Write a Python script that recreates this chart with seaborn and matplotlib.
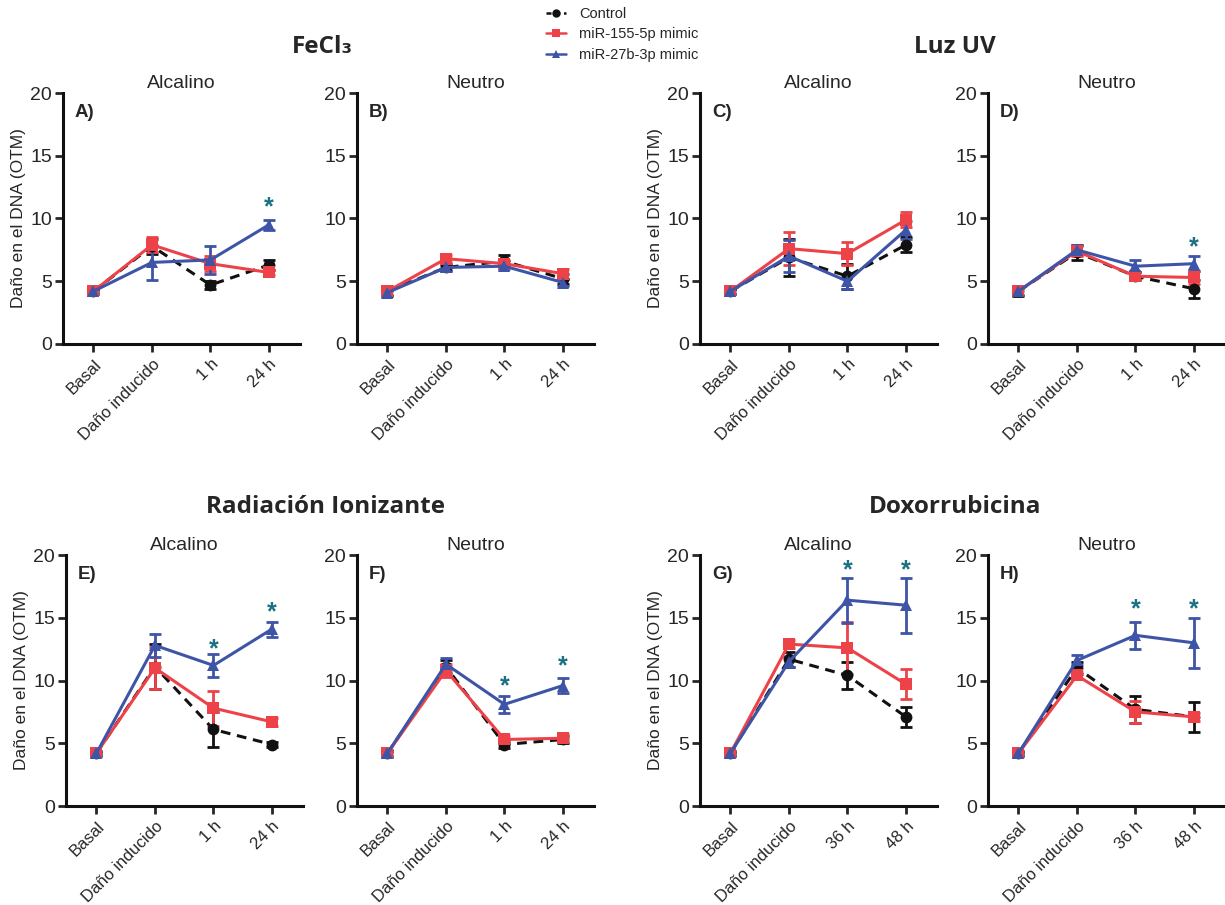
import numpy as np
import pandas as pd
import matplotlib
matplotlib.use("Agg")
import matplotlib.pyplot as plt
from matplotlib.lines import Line2D
import seaborn as sns

sns.set_theme(style="ticks")
plt.rcParams['font.family'] = ['Liberation Sans', 'DejaVu Sans']

# ---------------- data ----------------
cats_short = ["Basal", "Daño inducido", "1 h", "24 h"]
cats_long = ["Basal", "Daño inducido", "36 h", "48 h"]
series_names = ["Control", "miR-155-5p mimic", "miR-27b-3p mimic"]

# Panel A: FeCl3 Alcalino
A_ctrl = [4.2, 7.8, 4.7, 6.3];  A_ctrl_e = [0.2, 0.6, 0.3, 0.4]
A_155 = [4.2, 7.9, 6.4, 5.7];   A_155_e = [0.2, 0.6, 0.6, 0.2]
A_27b = [4.2, 6.5, 6.7, 9.5];   A_27b_e = [0.1, 1.4, 1.1, 0.4]
# Panel B: FeCl3 Neutro
B_ctrl = [4.2, 6.1, 6.6, 5.2];  B_ctrl_e = [0.4, 0.3, 0.5, 0.4]
B_155 = [4.2, 6.8, 6.4, 5.6];   B_155_e = [0.3, 0.3, 0.3, 0.4]
B_27b = [4.1, 6.1, 6.2, 4.9];   B_27b_e = [0.2, 0.2, 0.2, 0.3]
# Panel C: Luz UV Alcalino
C_ctrl = [4.2, 6.9, 5.4, 7.9];  C_ctrl_e = [0.2, 1.5, 1.0, 0.6]
C_155 = [4.2, 7.6, 7.2, 9.9];   C_155_e = [0.2, 1.3, 0.9, 0.6]
C_27b = [4.2, 7.0, 5.0, 9.1];   C_27b_e = [0.2, 1.3, 0.6, 0.7]
# Panel D: Luz UV Neutro
D_ctrl = [4.2, 7.3, 5.4, 4.4];  D_ctrl_e = [0.4, 0.6, 0.3, 0.7]
D_155 = [4.2, 7.4, 5.4, 5.3];   D_155_e = [0.3, 0.4, 0.3, 0.5]
D_27b = [4.2, 7.5, 6.2, 6.4];   D_27b_e = [0.3, 0.4, 0.5, 0.6]
# Panel E: Radiación Ionizante Alcalino
E_ctrl = [4.2, 11.1, 6.1, 4.9]; E_ctrl_e = [0.2, 1.8, 1.4, 0.2]
E_155 = [4.2, 11.0, 7.8, 6.7];  E_155_e = [0.2, 1.7, 1.4, 0.3]
E_27b = [4.2, 12.8, 11.2, 14.1]; E_27b_e = [0.1, 0.9, 0.9, 0.6]
# Panel F: Radiación Ionizante Neutro
F_ctrl = [4.2, 11.1, 4.9, 5.3]; F_ctrl_e = [0.3, 0.5, 0.3, 0.3]
F_155 = [4.2, 10.8, 5.3, 5.4];  F_155_e = [0.2, 0.5, 0.3, 0.3]
F_27b = [4.2, 11.3, 8.1, 9.6];  F_27b_e = [0.2, 0.5, 0.7, 0.6]
# Panel G: Doxorrubicina Alcalino
G_ctrl = [4.2, 11.7, 10.4, 7.1]; G_ctrl_e = [0.2, 0.6, 1.1, 0.8]
G_155 = [4.2, 12.9, 12.6, 9.7];  G_155_e = [0.2, 0.3, 2.1, 1.2]
G_27b = [4.2, 11.5, 16.4, 16.0]; G_27b_e = [0.1, 0.4, 1.8, 2.2]
# Panel H: Doxorrubicina Neutro
H_ctrl = [4.2, 11.0, 7.7, 7.1]; H_ctrl_e = [0.2, 0.5, 1.1, 1.2]
H_155 = [4.2, 10.4, 7.5, 7.1];  H_155_e = [0.2, 0.3, 0.9, 0.3]
H_27b = [4.2, 11.6, 13.6, 13.0]; H_27b_e = [0.1, 0.4, 1.1, 2.0]

# significance stars: (category index, y)
A_stars = [(3, 10.9)]
B_stars = []
C_stars = []
D_stars = [(3, 7.7)]
E_stars = [(2, 12.5), (3, 15.4)]
F_stars = [(2, 9.5), (3, 11.1)]
G_stars = [(2, 18.8), (3, 18.8)]
H_stars = [(2, 15.7), (3, 15.7)]

panels = [
    ("A)", "Alcalino", cats_short, (A_ctrl, A_ctrl_e), (A_155, A_155_e), (A_27b, A_27b_e), A_stars),
    ("B)", "Neutro", cats_short, (B_ctrl, B_ctrl_e), (B_155, B_155_e), (B_27b, B_27b_e), B_stars),
    ("C)", "Alcalino", cats_short, (C_ctrl, C_ctrl_e), (C_155, C_155_e), (C_27b, C_27b_e), C_stars),
    ("D)", "Neutro", cats_short, (D_ctrl, D_ctrl_e), (D_155, D_155_e), (D_27b, D_27b_e), D_stars),
    ("E)", "Alcalino", cats_short, (E_ctrl, E_ctrl_e), (E_155, E_155_e), (E_27b, E_27b_e), E_stars),
    ("F)", "Neutro", cats_short, (F_ctrl, F_ctrl_e), (F_155, F_155_e), (F_27b, F_27b_e), F_stars),
    ("G)", "Alcalino", cats_long, (G_ctrl, G_ctrl_e), (G_155, G_155_e), (G_27b, G_27b_e), G_stars),
    ("H)", "Neutro", cats_long, (H_ctrl, H_ctrl_e), (H_155, H_155_e), (H_27b, H_27b_e), H_stars),
]

group_titles = ["FeCl₃", "Luz UV", "Radiación Ionizante", "Doxorrubicina"]

# ---------------- style ----------------
colors = {"Control": "#111111", "miR-155-5p mimic": "#ee4249", "miR-27b-3p mimic": "#3e55a7"}
markers = {"Control": "o", "miR-155-5p mimic": "s", "miR-27b-3p mimic": "^"}
star_color = "#1b7184"

W, H = 1225, 905
fig = plt.figure(figsize=(W / 100, H / 100), dpi=100)

lefts = [63, 357, 700, 988, 66, 357, 700, 988]
tops = [93, 93, 93, 93, 555, 555, 555, 555]
ax_w, ax_h = 237, 251

draw_order = [2, 1, 0]  # blue, red, control last

for i, (lab, sub, cats, ctrl, m155, m27, stars) in enumerate(panels):
    l, t = lefts[i], tops[i]
    ax = fig.add_axes([l / W, 1 - (t + ax_h) / H, ax_w / W, ax_h / H])
    data = [ctrl, m155, m27]
    x = np.arange(len(cats))
    for k in draw_order:
        name = series_names[k]
        vals, errs = data[k]
        df = pd.DataFrame({"x": x, "y": vals})
        ax.errorbar(x, vals, yerr=errs, fmt="none", ecolor=colors[name],
                    elinewidth=2.0, capsize=4, capthick=2.0, zorder=2 + k * 0.1)
        sns.lineplot(data=df, x="x", y="y", ax=ax, color=colors[name],
                     marker=markers[name], markersize=9 if name != "Control" else 8.5,
                     markeredgewidth=0, linewidth=2.2,
                     linestyle=(0, (3.2, 2.2)) if name == "Control" else "-",
                     zorder=3 + k * 0.1)
    for (ci, sy) in stars:
        ax.text(ci, sy, "*", color=star_color, ha="center", va="center",
                fontsize=18, fontweight="bold")
    ax.set_xlim(-0.52, 3.53)
    ax.set_ylim(0, 20)
    ax.set_yticks([0, 5, 10, 15, 20])
    ax.set_xticks(x)
    ax.set_xticklabels(cats, rotation=45, ha="right", rotation_mode="anchor", fontsize=12)
    ax.tick_params(axis="y", labelsize=14, width=2, length=6, pad=2)
    ax.tick_params(axis="x", width=2, length=6, pad=3)
    ax.set_xlabel("")
    if i % 2 == 0:
        ax.set_ylabel("Daño en el DNA (OTM)", fontsize=12.5, labelpad=3)
    else:
        ax.set_ylabel("")
    for s in ["left", "bottom"]:
        ax.spines[s].set_linewidth(2.2)
        ax.spines[s].set_color("#111111")
    sns.despine(ax=ax)
    ax.text(0.5, 1.005, sub, transform=ax.transAxes, ha="center", va="bottom",
            fontsize=14)
    ax.text(0.05, 0.955, lab, transform=ax.transAxes, ha="left", va="top",
            fontsize=13.5, fontweight="bold")
    for art in ax.lines + ax.collections:
        art.set_clip_on(False)

# group titles
title_pos = [(322, 47), (955, 47), (325, 507), (955, 507)]
for (tx, ty), tt in zip(title_pos, group_titles):
    fig.text(tx / W, 1 - ty / H, tt, ha="center", va="center", fontsize=17.5,
             fontweight="bold", family=["Open Sans", "DejaVu Sans"])

# legend
handles = [Line2D([0], [0], color=colors[n], marker=markers[n], markersize=6,
                  linewidth=1.8, linestyle=(0, (2, 1.5)) if n == "Control" else "-",
                  markeredgewidth=0) for n in series_names]
fig.legend(handles, series_names, loc="upper left", bbox_to_anchor=(540 / W, 1 - 1 / H),
           frameon=False, fontsize=10.5, handlelength=1.4, labelspacing=0.45,
           handletextpad=0.9, borderaxespad=0)

fig.savefig("out.png", dpi=100)
